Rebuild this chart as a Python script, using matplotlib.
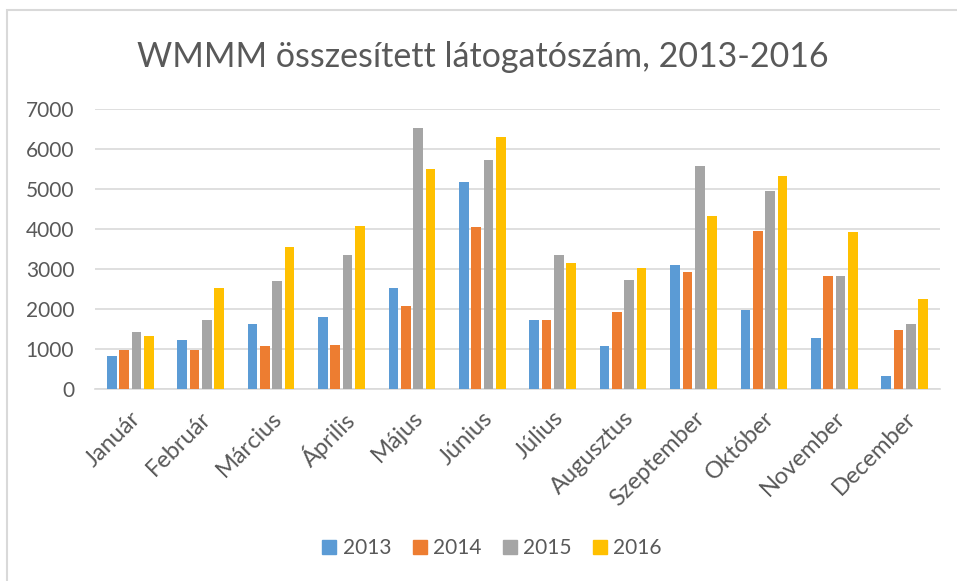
import matplotlib
matplotlib.use("Agg")
import matplotlib.pyplot as plt
from matplotlib.lines import Line2D
from matplotlib.patches import Rectangle
import numpy as np

# data
months = ["Január", "Február", "Március", "Április", "Május", "Június",
          "Július", "Augusztus", "Szeptember", "Október", "November", "December"]
years = ["2013", "2014", "2015", "2016"]
v2013 = [820, 1230, 1620, 1810, 2520, 5180, 1720, 1080, 3100, 1980, 1270, 340]
v2014 = [990, 990, 1080, 1100, 2070, 4060, 1720, 1940, 2930, 3960, 2840, 1490]
v2015 = [1430, 1720, 2710, 3350, 6530, 5730, 3350, 2740, 5570, 4960, 2840, 1620]
v2016 = [1340, 2520, 3550, 4090, 5500, 6300, 3150, 3030, 4320, 5330, 3930, 2260]
yticks = [0, 1000, 2000, 3000, 4000, 5000, 6000, 7000]

colors = ["#5B9BD5", "#ED7D31", "#A5A5A5", "#FFC000"]
txt = "#595959"

plt.rcParams['font.family'] = ['Lato', 'DejaVu Sans']

fig = plt.figure(figsize=(9.57, 5.81), dpi=100)
ax = fig.add_axes([95/957, 1 - 389.3/581, 845/957, 280/581])

# chart area outline (only top and left show in the crop)
fig.patches.append(Rectangle((7/957, -0.1), 1.2, 1.1 - 10/581,
                             transform=fig.transFigure, fill=False,
                             edgecolor="#D9D9D9", lw=1.5, zorder=0))

x = np.arange(len(months))
pitch = 0.175
series = [v2013, v2014, v2015, v2016]
for i, vals in enumerate(series):
    ax.bar(x + (i - 1.5) * pitch, vals, width=0.137, color=colors[i],
           edgecolor="none", zorder=3)

ax.set_xlim(-0.5, len(months) - 0.5)
ax.set_ylim(0, 7000)
ax.set_yticks(yticks)
ax.set_yticklabels([str(t) for t in yticks])
ax.grid(axis="y", color="#D9D9D9", lw=1.2, zorder=0)
for s in ["top", "right", "left"]:
    ax.spines[s].set_visible(False)
ax.spines["bottom"].set_color("#D9D9D9")
ax.spines["bottom"].set_linewidth(1.2)
ax.tick_params(axis="both", length=0, colors=txt, labelsize=15)
ax.tick_params(axis="y", pad=15)

ax.set_xticks(x)
ax.set_xticklabels(months, rotation=45, ha="right", va="top",
                   rotation_mode="anchor", fontsize=17)
ax.tick_params(axis="x", pad=13)

fig.text(483/957, 1 - 57/581, "WMMM összesített látogatószám, 2013-2016",
         ha="center", va="center", fontsize=24.5, color=txt)

handles = [Line2D([0], [0], marker="s", linestyle="none", markersize=9.5,
                  markerfacecolor=c, markeredgecolor=c) for c in colors]
fig.legend(handles, years, loc="center", ncol=4, frameon=False,
           bbox_to_anchor=(492/957, 1 - 548/581), fontsize=15,
           labelcolor=txt, handlelength=0.7, handletextpad=0.3,
           columnspacing=1.0)

fig.savefig("out.png", dpi=100)
